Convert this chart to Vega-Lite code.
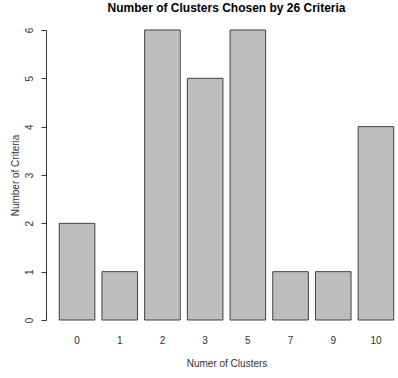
{
  "$schema": "https://vega.github.io/schema/vega-lite/v6.json",
  "width": 343,
  "height": 290,
  "autosize": {"type": "none"},
  "padding": {"left": 55, "top": 30, "right": 0, "bottom": 58},
  "background": "white",
  "title": {
    "text": "Number of Clusters Chosen by 26 Criteria",
    "font": "Liberation Sans",
    "fontSize": 12,
    "fontWeight": "bold",
    "color": "#000000",
    "anchor": "middle",
    "offset": 12
  },
  "data": {
    "values": [
      {"clusters": "0", "criteria": 2},
      {"clusters": "1", "criteria": 1},
      {"clusters": "2", "criteria": 6},
      {"clusters": "3", "criteria": 5},
      {"clusters": "5", "criteria": 6},
      {"clusters": "7", "criteria": 1},
      {"clusters": "9", "criteria": 1},
      {"clusters": "10", "criteria": 4}
    ]
  },
  "mark": {"type": "bar", "fill": "#bebebe", "stroke": "#404040", "strokeWidth": 1},
  "encoding": {
    "x": {
      "field": "clusters",
      "type": "ordinal",
      "sort": null,
      "scale": {"paddingInner": 0.1667, "paddingOuter": 0.1},
      "axis": {
        "title": "Numer of Clusters",
        "labelAngle": 0,
        "domain": false,
        "ticks": false,
        "labelPadding": 15,
        "labelFont": "Liberation Sans",
        "labelFontSize": 10,
        "labelColor": "#333333",
        "titleFont": "Liberation Sans",
        "titleFontSize": 10,
        "titleFontWeight": "normal",
        "titleColor": "#333333",
        "titlePadding": 13
      }
    },
    "y": {
      "field": "criteria",
      "type": "quantitative",
      "scale": {"domain": [0, 6], "nice": false},
      "axis": {
        "title": "Number of Criteria",
        "values": [0, 1, 2, 3, 4, 5, 6],
        "grid": false,
        "offset": 9,
        "domainColor": "#333333",
        "tickColor": "#333333",
        "tickSize": 5,
        "labelAngle": 270,
        "labelAlign": "center",
        "labelBaseline": "bottom",
        "labelPadding": 7,
        "labelFont": "Liberation Sans",
        "labelFontSize": 10,
        "labelColor": "#333333",
        "titleFont": "Liberation Sans",
        "titleFontSize": 10,
        "titleFontWeight": "normal",
        "titleColor": "#333333",
        "titlePadding": 4
      }
    }
  },
  "config": {"view": {"stroke": null}}
}
